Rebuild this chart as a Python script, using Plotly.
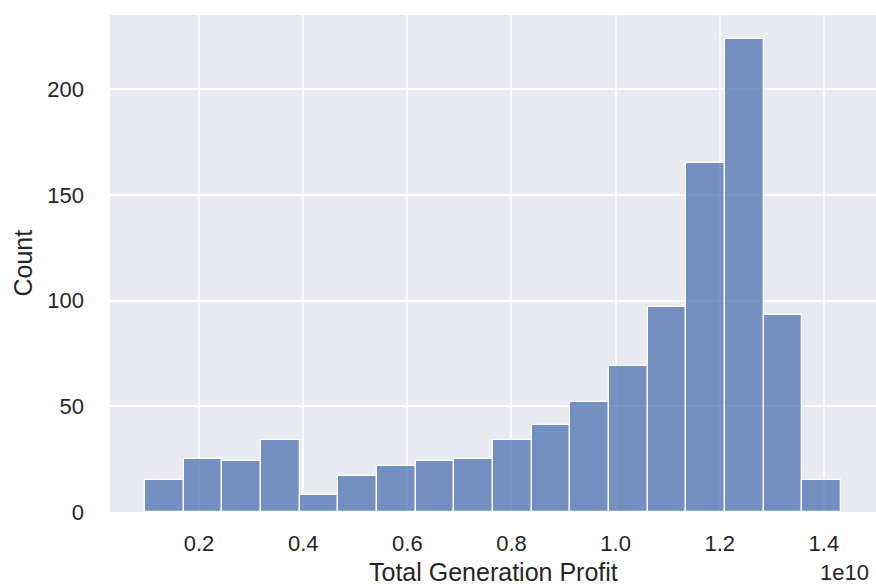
import plotly.graph_objects as go

# Histogram of total generation profit (x values in units of 1e10)
bin_start = 0.0958
bin_width = 0.0743
counts = [15, 25, 24, 34, 8, 17, 22, 24, 25, 34, 41, 52, 69, 97, 165, 224, 93, 15]
x_ticks = [0.2, 0.4, 0.6, 0.8, 1.0, 1.2, 1.4]
x_tick_text = ["0.2", "0.4", "0.6", "0.8", "1.0", "1.2", "1.4"]
y_ticks = [0, 50, 100, 150, 200]

centers = [bin_start + bin_width * (i + 0.5) for i in range(len(counts))]
bin_end = bin_start + bin_width * len(counts)
span = bin_end - bin_start

font_family = "Arial, Liberation Sans, sans-serif"
text_color = "#262626"

fig = go.Figure(
    go.Bar(
        x=centers,
        y=counts,
        width=bin_width,
        marker=dict(color="rgba(76,114,176,0.75)", line=dict(color="white", width=1.3)),
        hoverinfo="x+y",
    )
)

fig.update_layout(
    width=876,
    height=586,
    margin=dict(l=110, r=0, t=15, b=74),
    paper_bgcolor="white",
    plot_bgcolor="#EAEAF2",
    showlegend=False,
    font=dict(family=font_family, color=text_color, size=22),
    bargap=0,
)

fig.update_xaxes(
    range=[bin_start - 0.05 * span, bin_end + 0.05 * span],
    tickvals=x_ticks,
    ticktext=x_tick_text,
    showgrid=True,
    gridcolor="white",
    gridwidth=2,
    zeroline=False,
    showline=False,
    ticks="",
    ticklabelstandoff=16,
    tickfont=dict(size=22),
)
fig.update_yaxes(
    range=[0, max(counts) * 1.05],
    tickvals=y_ticks,
    showgrid=True,
    gridcolor="white",
    gridwidth=2,
    zeroline=False,
    showline=False,
    ticks="",
    ticklabelstandoff=25,
    tickfont=dict(size=22),
)

# Axis titles and the scale offset label
fig.add_annotation(
    text="Count", xref="paper", yref="paper", x=-110 / 766 + 22 / 766, y=0.5,
    xanchor="center", yanchor="middle", textangle=-90, showarrow=False,
    font=dict(size=25, color=text_color, family=font_family),
)
fig.add_annotation(
    text="Total Generation Profit", xref="paper", yref="paper",
    x=(493 - 110) / 766, y=-(572 - 512) / 497,
    xanchor="center", yanchor="middle", showarrow=False,
    font=dict(size=25, color=text_color, family=font_family),
)
fig.add_annotation(
    text="1e10", xref="paper", yref="paper",
    x=(871 - 110) / 766, y=-(572 - 512) / 497,
    xanchor="right", yanchor="middle", showarrow=False,
    font=dict(size=22, color=text_color, family=font_family),
)

fig.write_html("out.html")
